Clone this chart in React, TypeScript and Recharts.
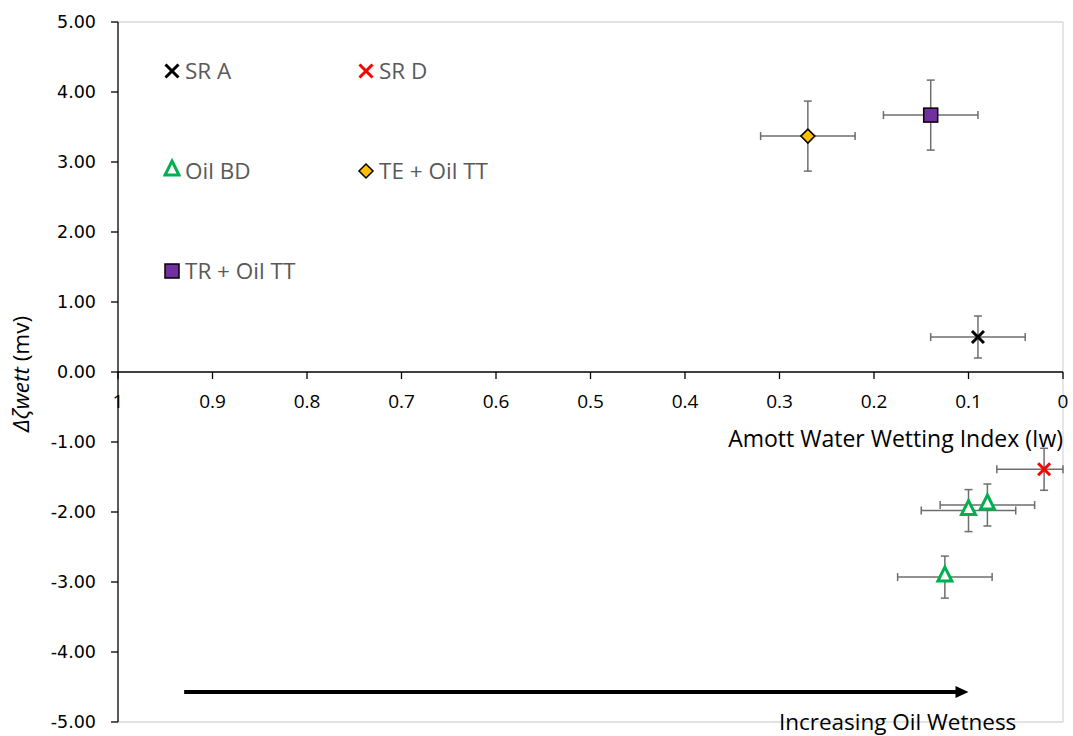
import { ErrorBar, Legend, ReferenceDot, ReferenceLine, Scatter, ScatterChart, XAxis, YAxis } from "recharts";

const W = 1073;
const H = 736;
const X_AXIS_H = 14;
const MARGIN = { top: 22, right: 10, bottom: 0, left: 0 };
const PLOT_H = H - MARGIN.top - MARGIN.bottom - X_AXIS_H;

const X_TICKS = [1, 0.9, 0.8, 0.7, 0.6, 0.5, 0.4, 0.3, 0.2, 0.1, 0];
const Y_TICKS = [-5, -4, -3, -2, -1, 0, 1, 2, 3, 4, 5];
const Y_MIN = -5;
const Y_MAX = 5;

// Iw = Amott water wetting index, dz = change in zeta potential (mV)
const SR_A = [{ iw: 0.09, dz: 0.5, errX: 0.05, errY: 0.3 }];
const SR_D = [{ iw: 0.02, dz: -1.39, errX: [0.02, 0.05], errY: 0.3 }];
const OIL_BD = [
  { iw: 0.1, dz: -1.98, errX: 0.05, errY: 0.3 },
  { iw: 0.08, dz: -1.9, errX: 0.05, errY: 0.3 },
  { iw: 0.125, dz: -2.93, errX: 0.05, errY: 0.3 },
];
const TE_OIL_TT = [{ iw: 0.27, dz: 3.37, errX: 0.05, errY: 0.5 }];
const TR_OIL_TT = [{ iw: 0.14, dz: 3.67, errX: 0.05, errY: 0.5 }];

const ARROW_FROM = 0.93;
const ARROW_TO = 0.1;
const ARROW_Y = -4.57;
const NOTE_X = 0.175;

type Kind = "xBlack" | "xRed" | "triangle" | "diamond" | "square";

const LEGEND_ITEMS: { name: string; kind: Kind }[] = [
  { name: "SR A", kind: "xBlack" },
  { name: "SR D", kind: "xRed" },
  { name: "Oil BD", kind: "triangle" },
  { name: "TE + Oil TT", kind: "diamond" },
  { name: "TR + Oil TT", kind: "square" },
];

const FONT = "'Open Sans', sans-serif";
const ERR_COLOR = "#6e6e6e";

function marker(kind: Kind, cx: number, cy: number, s = 6) {
  switch (kind) {
    case "xBlack":
    case "xRed": {
      const c = kind === "xBlack" ? "#000000" : "#ff0000";
      return (
        <g stroke={c} strokeWidth={3}>
          <line x1={cx - s} y1={cy - s} x2={cx + s} y2={cy + s} />
          <line x1={cx - s} y1={cy + s} x2={cx + s} y2={cy - s} />
        </g>
      );
    }
    case "triangle":
      return (
        <polygon
          points={`${cx},${cy - 10} ${cx + 7},${cy + 4} ${cx - 7},${cy + 4}`}
          fill="#ffffff"
          stroke="#00b050"
          strokeWidth={3}
        />
      );
    case "diamond":
      return (
        <polygon
          points={`${cx},${cy - 7} ${cx + 7},${cy} ${cx},${cy + 7} ${cx - 7},${cy}`}
          fill="#ffc000"
          stroke="#000000"
          strokeWidth={1.5}
        />
      );
    default:
      return <rect x={cx - 7} y={cy - 7} width={14} height={14} fill="#7030a0" stroke="#000000" strokeWidth={1.5} />;
  }
}

const shapeOf = (kind: Kind) => (props: any) => marker(kind, props.cx, props.cy);

// the x axis sits on the zero line, so ticks are drawn there
const renderXTick = ({ x, y, payload }: any) => {
  const zeroY = y - (PLOT_H * (0 - Y_MIN)) / (Y_MAX - Y_MIN);
  return (
    <g>
      <line x1={x} x2={x} y1={zeroY} y2={zeroY + 7} stroke="#000" strokeWidth={1.3} />
      <text x={x} y={zeroY + 36} textAnchor="middle" fontFamily={FONT} fontSize={19} fill="#000">
        {payload.value}
      </text>
    </g>
  );
};

function LegendBox() {
  return (
    <div style={{ position: "relative", width: W, height: H }}>
      {LEGEND_ITEMS.map((item, i) => (
        <div
          key={item.name}
          style={{
            position: "absolute",
            left: 163 + (i % 2) * 194,
            top: 56 + Math.floor(i / 2) * 100,
            display: "flex",
            alignItems: "center",
            fontFamily: FONT,
            fontSize: 22.5,
            lineHeight: "30px",
            color: "#595959",
            whiteSpace: "nowrap",
          }}
        >
          <svg width={18} height={30} style={{ marginRight: 4 }}>
            {marker(item.kind, 9, 15, 6.5)}
          </svg>
          {item.name}
        </div>
      ))}
    </div>
  );
}

function Arrow(props: any) {
  const { x1, y1, x2, y2 } = props;
  return (
    <g>
      <line x1={x1} y1={y1} x2={x2 - 10} y2={y2} stroke="#000" strokeWidth={4} />
      <polygon points={`${x2},${y2} ${x2 - 13},${y2 - 6} ${x2 - 13},${y2 + 6}`} fill="#000" />
    </g>
  );
}

export default function App() {
  return (
    <div style={{ position: "absolute", left: 0, top: 0, background: "#fff" }}>
      <ScatterChart width={W} height={H} margin={MARGIN}>
        <XAxis
          dataKey="iw"
          type="number"
          domain={[0, 1]}
          reversed
          ticks={X_TICKS}
          interval={0}
          height={X_AXIS_H}
          axisLine={false}
          tickLine={false}
          tickSize={0}
          tickMargin={0}
          tick={renderXTick}
        />
        <YAxis
          dataKey="dz"
          type="number"
          domain={[Y_MIN, Y_MAX]}
          ticks={Y_TICKS}
          interval={0}
          width={118}
          tickFormatter={(v: number) => v.toFixed(2)}
          tick={{ fontFamily: "'DejaVu Sans', sans-serif", fontSize: 17.5, fill: "#000" }}
          axisLine={{ stroke: "#000", strokeWidth: 1.3 }}
          tickLine={{ stroke: "#000", strokeWidth: 1.3 }}
          tickSize={7}
          tickMargin={15}
          label={{
            content: ({ viewBox }: any) => (
              <text
                transform={`translate(${viewBox.x + 29}, ${viewBox.y + viewBox.height / 2 + 2}) rotate(-90)`}
                textAnchor="middle"
                fontFamily={FONT}
                fontSize={22.5}
                fill="#000"
              >
                <tspan fontStyle="italic">Δζwett</tspan>
                <tspan> (mv)</tspan>
              </text>
            ),
          }}
        />
        <ReferenceLine y={Y_MAX} stroke="#d9d9d9" strokeWidth={1.3} />
        <ReferenceLine y={Y_MIN} stroke="#d9d9d9" strokeWidth={1.3} />
        <ReferenceLine x={0} stroke="#d9d9d9" strokeWidth={1.3} />
        <ReferenceLine
          y={0}
          stroke="#000"
          strokeWidth={1.5}
          label={{
            content: ({ viewBox }: any) => (
              <text
                x={viewBox.x + viewBox.width}
                y={viewBox.y + 75}
                textAnchor="end"
                fontFamily={FONT}
                fontSize={23}
                fill="#000"
              >
                Amott Water Wetting Index (Iw)
              </text>
            ),
          }}
        />
        <ReferenceLine
          segment={[
            { x: ARROW_FROM, y: ARROW_Y },
            { x: ARROW_TO, y: ARROW_Y },
          ]}
          shape={Arrow}
        />
        <ReferenceDot
          x={NOTE_X}
          y={Y_MIN}
          r={0}
          fill="none"
          stroke="none"
          label={{
            content: ({ viewBox }: any) => (
              <text
                x={viewBox.x + viewBox.width / 2}
                y={viewBox.y + viewBox.height / 2 + 8}
                textAnchor="middle"
                fontFamily={FONT}
                fontSize={22.5}
                fill="#000"
              >
                Increasing Oil Wetness
              </text>
            ),
          }}
        />
        <Scatter name="SR A" data={SR_A} shape={shapeOf("xBlack")} isAnimationActive={false}>
          <ErrorBar dataKey="errX" direction="x" width={4} stroke={ERR_COLOR} strokeWidth={1.5} />
          <ErrorBar dataKey="errY" direction="y" width={4} stroke={ERR_COLOR} strokeWidth={1.5} />
        </Scatter>
        <Scatter name="SR D" data={SR_D} shape={shapeOf("xRed")} isAnimationActive={false}>
          <ErrorBar dataKey="errX" direction="x" width={4} stroke={ERR_COLOR} strokeWidth={1.5} />
          <ErrorBar dataKey="errY" direction="y" width={4} stroke={ERR_COLOR} strokeWidth={1.5} />
        </Scatter>
        <Scatter name="Oil BD" data={OIL_BD} shape={shapeOf("triangle")} isAnimationActive={false}>
          <ErrorBar dataKey="errX" direction="x" width={4} stroke={ERR_COLOR} strokeWidth={1.5} />
          <ErrorBar dataKey="errY" direction="y" width={4} stroke={ERR_COLOR} strokeWidth={1.5} />
        </Scatter>
        <Scatter name="TE + Oil TT" data={TE_OIL_TT} shape={shapeOf("diamond")} isAnimationActive={false}>
          <ErrorBar dataKey="errX" direction="x" width={4} stroke={ERR_COLOR} strokeWidth={1.5} />
          <ErrorBar dataKey="errY" direction="y" width={4} stroke={ERR_COLOR} strokeWidth={1.5} />
        </Scatter>
        <Scatter name="TR + Oil TT" data={TR_OIL_TT} shape={shapeOf("square")} isAnimationActive={false}>
          <ErrorBar dataKey="errX" direction="x" width={4} stroke={ERR_COLOR} strokeWidth={1.5} />
          <ErrorBar dataKey="errY" direction="y" width={4} stroke={ERR_COLOR} strokeWidth={1.5} />
        </Scatter>
        <Legend
          layout="vertical"
          align="center"
          verticalAlign="middle"
          content={<LegendBox />}
          wrapperStyle={{ left: 0, top: 0, width: W, height: H, pointerEvents: "none" }}
        />
      </ScatterChart>
    </div>
  );
}
